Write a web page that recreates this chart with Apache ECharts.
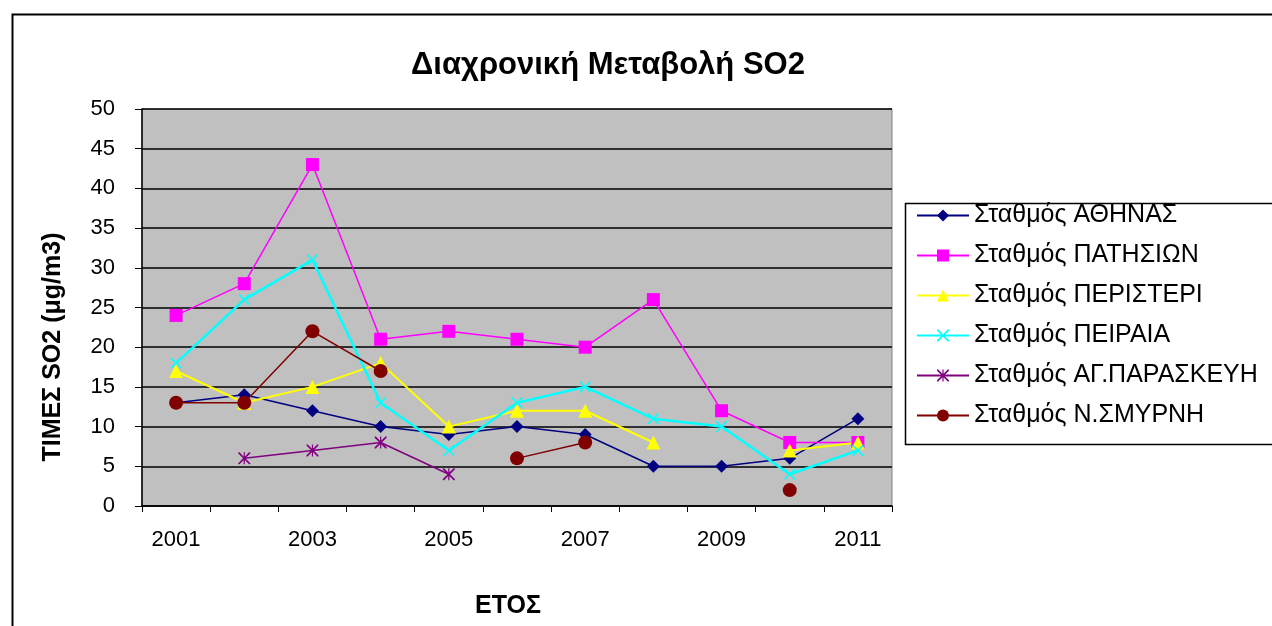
<!DOCTYPE html>
<html>
<head>
<meta charset="utf-8">
<script src="https://cdn.jsdelivr.net/npm/echarts@6/dist/echarts.min.js"></script>
<style>
  html, body { margin: 0; padding: 0; background: #fff; }
  #chart { width: 1272px; height: 626px; }
</style>
</head>
<body>
<div id="chart"></div>
<script>
// Years on the category axis
const years = ['2001', '2002', '2003', '2004', '2005', '2006', '2007', '2008', '2009', '2010', '2011'];

// Annual SO2 values per station (μg/m3); '-' marks a missing year
const athinas     = [13, 14, 12, 10, 9, 10, 9, 5, 5, 6, 11];
const patision    = [24, 28, 43, 21, 22, 21, 20, 26, 12, 8, 8];
const peristeri   = [17, 13, 15, 18, 10, 12, 12, 8, '-', 7, 8];
const peiraia     = [18, 26, 31, 13, 7, 13, 15, 11, 10, 4, 7];
const agParaskevi = ['-', 6, 7, 8, 4, '-', '-', '-', '-', '-', '-'];
const nSmyrni     = [13, 13, 22, 17, '-', 6, 8, '-', '-', 2, '-'];

const stationNames = [
  'Σταθμός ΑΘΗΝΑΣ',
  'Σταθμός ΠΑΤΗΣΙΩΝ',
  'Σταθμός ΠΕΡΙΣΤΕΡΙ',
  'Σταθμός ΠΕΙΡΑΙΑ',
  'Σταθμός ΑΓ.ΠΑΡΑΣΚΕΥΗ',
  'Σταθμός Ν.ΣΜΥΡΝΗ'
];

const FONT = '"Liberation Sans", Arial, sans-serif';

// Marker shapes drawn as filled outlines
const crossPath = 'path://M0,0 L2,0 L10,8 L18,0 L20,0 L20,2 L12,10 L20,18 L20,20 L18,20 L10,12 L2,20 L0,20 L0,18 L8,10 L0,2 Z';
const starPath = 'path://M0,0 L2,0 L10,8 L18,0 L20,0 L20,2 L12,10 L20,18 L20,20 L18,20 L10,12 L2,20 L0,20 L0,18 L8,10 L0,2 Z M9,0 L11,0 L11,20 L9,20 Z';

function lineSeries(name, data, color, symbol, size, width) {
  return {
    name: name,
    type: 'line',
    data: data,
    connectNulls: false,
    symbol: symbol,
    symbolSize: size,
    showAllSymbol: true,
    itemStyle: { color: color, borderWidth: 0 },
    lineStyle: { color: color, width: width },
    emphasis: { disabled: true },
    animation: false
  };
}

const chart = echarts.init(document.getElementById('chart'), null, { renderer: 'canvas' });

chart.setOption({
  backgroundColor: '#ffffff',
  animation: false,
  title: {
    text: 'Διαχρονική Μεταβολή SO2',
    left: 603,
    top: 45,
    textAlign: 'center',
    textStyle: { fontFamily: FONT, fontSize: 31, fontWeight: 'bold', color: '#000' }
  },
  graphic: [
    {
      type: 'rect',
      left: 10, top: 12,
      shape: { width: 1300, height: 700 },
      style: { fill: 'none', stroke: '#000', lineWidth: 2 },
      silent: true, z: -1
    },
    {
      type: 'rect',
      left: 903, top: 201,
      shape: { width: 400, height: 241 },
      style: { fill: 'none', stroke: '#000', lineWidth: 1.5 },
      silent: true
    },
    {
      // vertical axis title
      type: 'text',
      x: 53,
      y: 347,
      rotation: Math.PI / 2,
      style: {
        text: 'ΤΙΜΕΣ SO2 (μg/m3)',
        font: 'bold 25px "Liberation Sans", Arial, sans-serif',
        fill: '#000',
        textAlign: 'center',
        textVerticalAlign: 'middle'
      },
      silent: true
    },
    {
      // horizontal axis title
      type: 'text',
      x: 508,
      y: 606,
      style: {
        text: 'ΕΤΟΣ',
        font: 'bold 25px "Liberation Sans", Arial, sans-serif',
        fill: '#000',
        textAlign: 'center',
        textVerticalAlign: 'middle'
      },
      silent: true
    }
  ],
  legend: {
    orient: 'vertical',
    left: 916,
    top: 203,
    itemWidth: 52,
    itemHeight: 15,
    itemGap: 15,
    padding: 0,
    textStyle: { fontFamily: FONT, fontSize: 25, color: '#000', padding: [0, 0, 0, 0] },
    data: stationNames
  },
  grid: {
    left: 142,
    top: 109,
    width: 750,
    height: 397,
    show: true,
    backgroundColor: '#C0C0C0',
    borderColor: '#808080',
    borderWidth: 1
  },
  xAxis: {
    type: 'category',
    data: years,
    boundaryGap: true,
    axisLine: { lineStyle: { color: '#000', width: 1.5 } },
    axisTick: { show: true, interval: 0, length: 6, lineStyle: { color: '#000' } },
    axisLabel: { interval: 1, margin: 23, fontFamily: FONT, fontSize: 22, color: '#000' },
    splitLine: { show: false }
  },
  yAxis: {
    type: 'value',
    min: 0,
    max: 50,
    interval: 5,
    axisLine: { show: true, lineStyle: { color: '#000', width: 1.5 } },
    axisTick: { show: true, length: 7, lineStyle: { color: '#000' } },
    axisLabel: { margin: 27, fontFamily: FONT, fontSize: 22, color: '#000' },
    splitLine: { show: true, lineStyle: { color: '#000', width: 1.5 } }
  },
  series: [
    lineSeries(stationNames[0], athinas, '#000080', 'diamond', 13, 1.5),
    lineSeries(stationNames[1], patision, '#FF00FF', 'rect', 13, 1.5),
    lineSeries(stationNames[2], peristeri, '#FFFF00', 'triangle', 14, 2),
    lineSeries(stationNames[3], peiraia, '#00FFFF', crossPath, 11, 2.5),
    lineSeries(stationNames[4], agParaskevi, '#800080', starPath, 12, 1.5),
    lineSeries(stationNames[5], nSmyrni, '#800000', 'circle', 14, 1.5)
  ]
});
</script>
</body>
</html>
